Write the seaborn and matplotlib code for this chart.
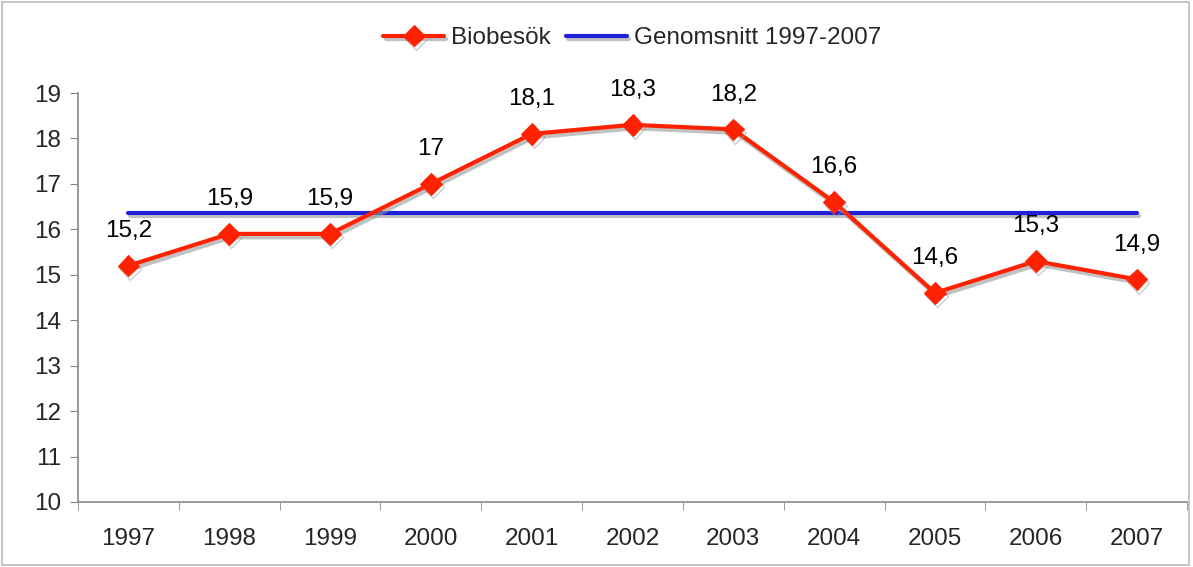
import numpy as np
import pandas as pd
import matplotlib
matplotlib.use("Agg")
import matplotlib.pyplot as plt
import matplotlib.patheffects as pe
from matplotlib.patches import Rectangle
from matplotlib.ticker import FixedLocator
import seaborn as sns

# data
years = ["1997", "1998", "1999", "2000", "2001", "2002", "2003", "2004", "2005", "2006", "2007"]
visits = [15.2, 15.9, 15.9, 17.0, 18.1, 18.3, 18.2, 16.6, 14.6, 15.3, 14.9]
average = [16.36, 16.36, 16.36, 16.36, 16.36, 16.36, 16.36, 16.36, 16.36, 16.36, 16.36]
value_labels = ["15,2", "15,9", "15,9", "17", "18,1", "18,3", "18,2", "16,6", "14,6", "15,3", "14,9"]

df = pd.DataFrame({"year": years, "Biobesök": visits, "Genomsnitt 1997-2007": average})
df["pos"] = np.arange(len(years))

sns.set_style("white")
plt.rcParams["font.family"] = ["Liberation Sans", "DejaVu Sans"]

fig = plt.figure(figsize=(11.93, 5.67), dpi=100)
ax = fig.add_axes([78 / 1193, 1 - 502 / 567, 1109 / 1193, 409 / 567])

red = "#FF2200"
blue = "#2020D8"
shadow = [pe.SimpleLineShadow(offset=(1.5, -2.5), shadow_color="#999999", alpha=0.6), pe.Normal()]

sns.lineplot(data=df, x="pos", y="Genomsnitt 1997-2007", color=blue, linewidth=3,
             label="Genomsnitt 1997-2007", ax=ax, path_effects=shadow, zorder=2)
sns.lineplot(data=df, x="pos", y="Biobesök", color=red, linewidth=3, marker="D",
             markersize=11, markeredgecolor=red, label="Biobesök", ax=ax,
             path_effects=shadow, zorder=3)

for i, (v, lab) in enumerate(zip(visits, value_labels)):
    ax.annotate(lab, (i, v), xytext=(0, 25), textcoords="offset points",
                ha="center", va="center", fontsize=17.5, color="black")

ax.set_xlim(-0.5, len(years) - 0.5)
ax.set_ylim(10, 19)
ax.set_yticks(range(10, 20))
ax.set_xticks(range(len(years)))
ax.set_xticklabels(years)
ax.xaxis.set_minor_locator(FixedLocator(np.arange(-0.5, len(years), 1.0)))
ax.tick_params(axis="x", which="major", length=0, pad=19, labelsize=17.5)
ax.tick_params(axis="x", which="minor", length=6, color="#888888", direction="out", bottom=True)
ax.tick_params(axis="y", length=6, color="#888888", direction="out", left=True, labelsize=17.5, pad=6)
ax.set_xlabel("")
ax.set_ylabel("")

for s in ["top", "right"]:
    ax.spines[s].set_visible(False)
for s in ["left", "bottom"]:
    ax.spines[s].set_color("#888888")
    ax.spines[s].set_linewidth(1.2)

handles, labels = ax.get_legend_handles_labels()
order = [1, 0]
ax.get_legend().remove()
fig.legend([handles[i] for i in order], [labels[i] for i in order], loc="center",
           bbox_to_anchor=(0.53, 1 - 38 / 567), ncol=2, frameon=False, fontsize=17.5,
           handlelength=2.5, columnspacing=0.6, handletextpad=0.3)

fig.patches.append(Rectangle((0.002, 0.003), 0.995, 0.994, transform=fig.transFigure,
                             fill=False, edgecolor="#BBBBBB", linewidth=1.2))

fig.savefig("out.png", dpi=100)
